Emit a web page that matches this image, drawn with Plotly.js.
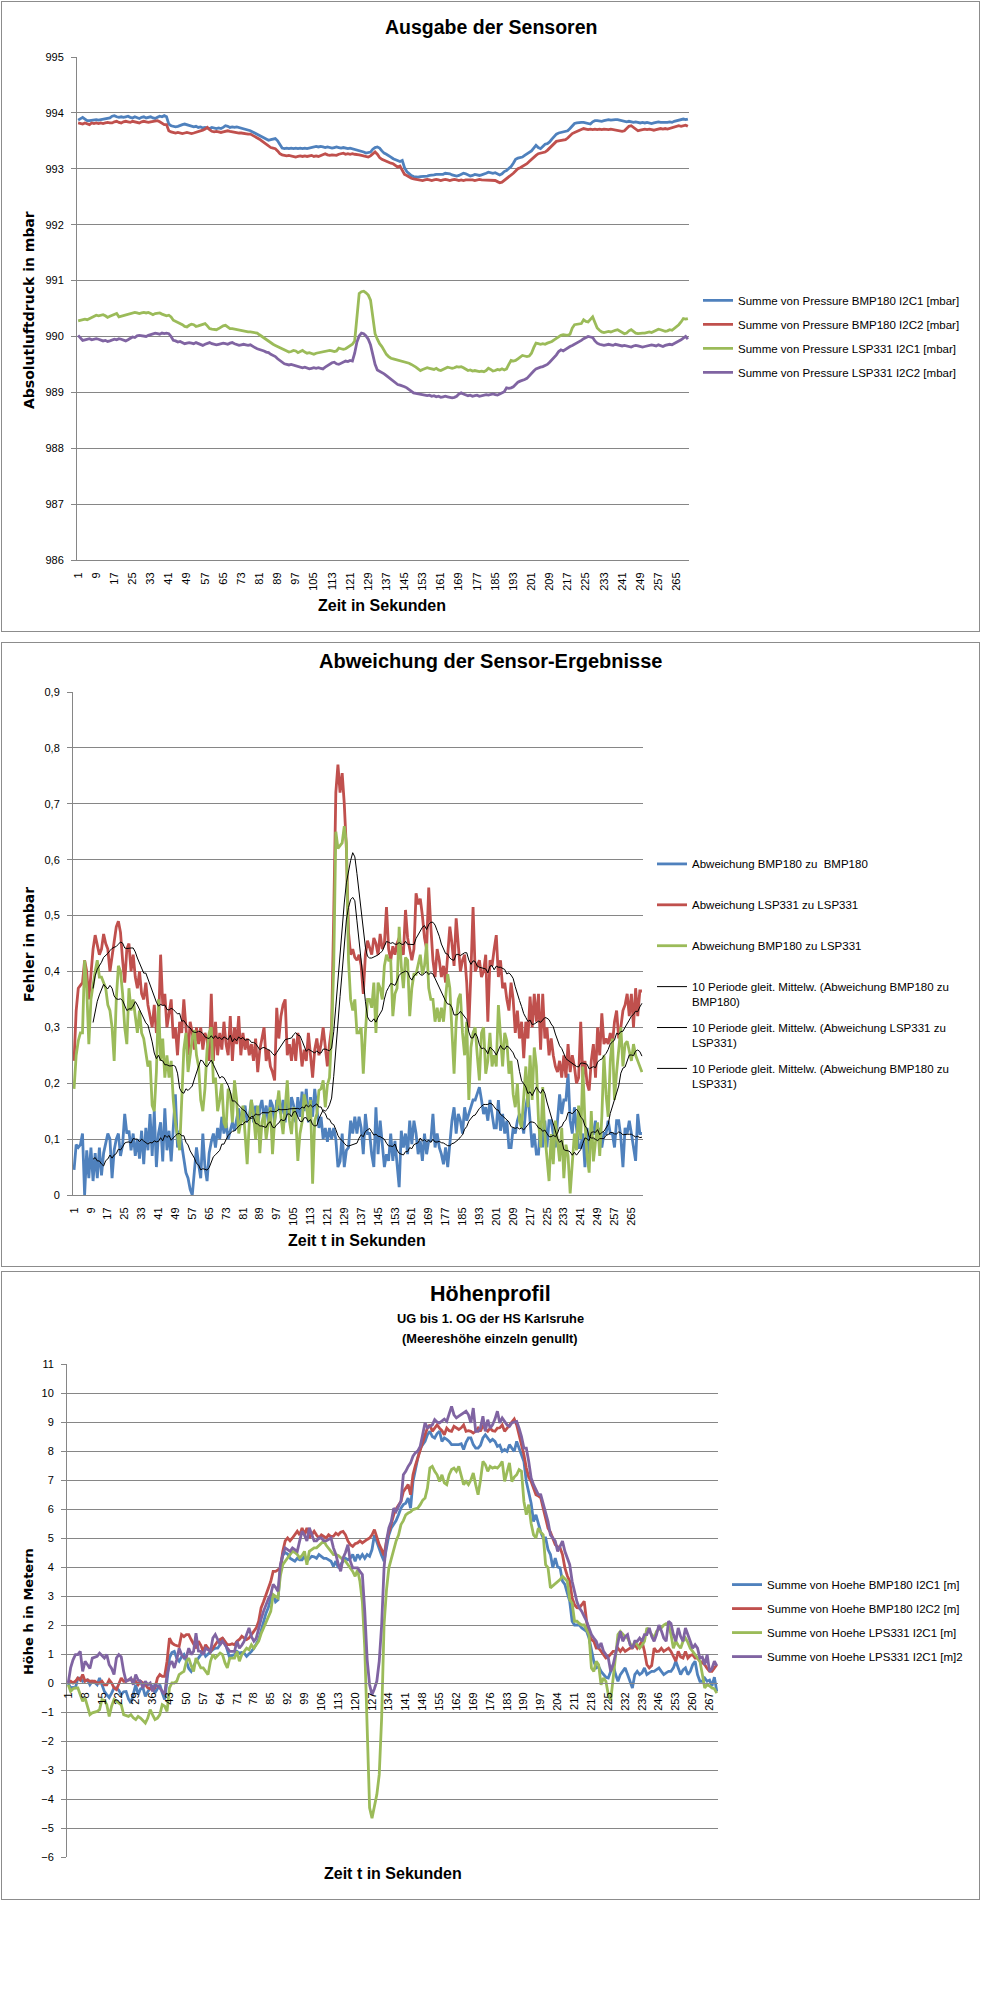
<!DOCTYPE html>
<html><head><meta charset="utf-8">
<script src="https://cdn.plot.ly/plotly-3.0.1.min.js"></script>
<style>
body{margin:0;background:#fff;width:983px;height:2004px;position:relative;overflow:hidden}
.box{position:absolute;border:1px solid #8c8c8c;box-sizing:border-box;background:#fff}
.box>div{position:absolute;left:0;top:0}
</style></head><body>
<div class="box" style="left:1px;top:1px;width:979px;height:631px"><div id="c1"></div></div>
<div class="box" style="left:1px;top:642px;width:979px;height:625px"><div id="c2"></div></div>
<div class="box" style="left:1px;top:1271px;width:979px;height:629px"><div id="c3"></div></div>
<script>
// ---------- categories / tick labels ----------
const seconds = Array.from({length:270},(_,k)=>k+1);
const ticks8 = [1,9,17,25,33,41,49,57,65,73,81,89,97,105,113,121,129,137,145,153,161,169,177,185,193,201,209,217,225,233,241,249,257,265];
const ticks7 = [1,8,15,22,29,36,43,50,57,64,71,78,85,92,99,106,113,120,127,134,141,148,155,162,169,176,183,190,197,204,211,218,225,232,239,246,253,260,267];

// ---------- Chart 1: Ausgabe der Sensoren (mbar) ----------
const pressBmp180I2C1 = [
993.87,993.90,993.92,993.89,993.86,993.86,993.87,993.88,993.88,993.87,
993.88,993.89,993.90,993.90,993.91,993.94,993.95,993.93,993.92,993.93,
993.92,993.93,993.94,993.92,993.91,993.93,993.92,993.90,993.92,993.93,
993.91,993.92,993.93,993.91,993.90,993.92,993.94,993.93,993.95,993.93,
993.80,993.77,993.76,993.75,993.76,993.78,993.79,993.80,993.79,993.77,
993.76,993.75,993.76,993.74,993.75,993.73,993.74,993.73,993.72,993.74,
993.73,993.72,993.73,993.72,993.74,993.77,993.76,993.74,993.75,993.74,
993.75,993.74,993.73,993.72,993.70,993.69,993.68,993.66,993.64,993.62,
993.60,993.58,993.55,993.53,993.51,993.52,993.53,993.54,993.50,993.42,
993.37,993.36,993.37,993.36,993.37,993.36,993.37,993.36,993.37,993.36,
993.37,993.36,993.37,993.38,993.39,993.40,993.39,993.40,993.39,993.38,
993.39,993.38,993.37,993.38,993.39,993.38,993.37,993.38,993.37,993.36,
993.37,993.36,993.35,993.34,993.33,993.32,993.30,993.28,993.29,993.30,
993.35,993.38,993.39,993.37,993.32,993.28,993.26,993.24,993.21,993.18,
993.16,993.14,993.13,993.15,993.02,992.95,992.91,992.88,992.86,992.85,
992.85,992.86,992.86,992.87,992.87,992.88,992.88,992.89,992.90,992.90,
992.91,992.90,992.92,992.92,992.91,992.89,992.88,992.87,992.88,992.90,
992.92,992.91,992.89,992.87,992.88,992.90,992.89,992.88,992.89,992.90,
992.92,992.94,992.93,992.92,992.93,992.91,992.89,992.91,992.95,992.97,
993.00,993.04,993.10,993.17,993.19,993.20,993.21,993.24,993.27,993.29,
993.32,993.37,993.42,993.38,993.36,993.40,993.44,993.45,993.48,993.53,
993.58,993.62,993.64,993.65,993.65,993.67,993.68,993.72,993.77,993.81,
993.82,993.83,993.83,993.83,993.82,993.81,993.80,993.84,993.86,993.86,
993.85,993.85,993.86,993.87,993.88,993.87,993.88,993.88,993.88,993.87,
993.86,993.85,993.84,993.85,993.84,993.83,993.84,993.83,993.82,993.83,
993.82,993.83,993.82,993.81,993.82,993.83,993.84,993.83,993.83,993.82,
993.83,993.84,993.83,993.85,993.86,993.86,993.88,993.89,993.88,993.89];
const pressBmp180I2C2 = [
993.82,993.81,993.80,993.82,993.81,993.79,993.82,993.81,993.82,993.81,
993.82,993.81,993.82,993.83,993.82,993.82,993.84,993.85,993.83,993.82,
993.84,993.85,993.84,993.83,993.85,993.84,993.83,993.82,993.84,993.85,
993.84,993.83,993.84,993.85,993.86,993.86,993.84,993.81,993.79,993.79,
993.68,993.66,993.65,993.64,993.65,993.64,993.63,993.64,993.65,993.64,
993.63,993.64,993.65,993.67,993.68,993.69,993.71,993.74,993.70,993.67,
993.66,993.67,993.66,993.65,993.66,993.67,993.68,993.67,993.66,993.65,
993.65,993.64,993.64,993.63,993.63,993.62,993.62,993.60,993.58,993.56,
993.53,993.50,993.47,993.44,993.40,993.38,993.37,993.36,993.32,993.27,
993.25,993.24,993.23,993.24,993.23,993.22,993.21,993.22,993.23,993.22,
993.23,993.22,993.23,993.24,993.22,993.23,993.22,993.24,993.26,993.27,
993.25,993.24,993.25,993.24,993.24,993.26,993.27,993.28,993.26,993.27,
993.26,993.27,993.26,993.26,993.25,993.24,993.23,993.22,993.21,993.23,
993.27,993.30,993.26,993.20,993.17,993.15,993.13,993.11,993.10,993.09,
993.06,993.03,993.05,992.96,992.90,992.88,992.85,992.83,992.82,992.81,
992.80,992.80,992.79,992.80,992.81,992.80,992.79,992.80,992.81,992.80,
992.79,992.80,992.81,992.80,992.79,992.80,992.81,992.80,992.79,992.80,
992.79,992.80,992.80,992.81,992.80,992.79,992.80,992.81,992.80,992.80,
992.79,992.80,992.79,992.80,992.79,992.77,992.75,992.76,992.79,992.82,
992.85,992.88,992.92,992.96,993.00,993.02,993.04,993.06,993.09,993.13,
993.17,993.20,993.24,993.27,993.28,993.29,993.30,993.33,993.37,993.42,
993.46,993.49,993.50,993.51,993.51,993.52,993.55,993.60,993.63,993.65,
993.67,993.69,993.71,993.72,993.71,993.70,993.71,993.70,993.71,993.70,
993.71,993.70,993.71,993.70,993.70,993.71,993.70,993.70,993.69,993.68,
993.67,993.68,993.72,993.76,993.77,993.74,993.70,993.68,993.69,993.70,
993.71,993.70,993.71,993.70,993.69,993.70,993.71,993.72,993.71,993.72,
993.71,993.72,993.73,993.74,993.75,993.77,993.76,993.77,993.78,993.76];
const pressLsp331I2C1 = [
990.28,990.29,990.30,990.31,990.30,990.32,990.34,990.36,990.38,990.37,
990.38,990.39,990.37,990.34,990.36,990.38,990.40,990.41,990.35,990.36,
990.38,990.39,990.40,990.41,990.42,990.43,990.42,990.41,990.42,990.43,
990.42,990.43,990.41,990.39,990.41,990.42,990.42,990.40,990.39,990.37,
990.38,990.35,990.29,990.27,990.26,990.24,990.21,990.18,990.17,990.20,
990.22,990.21,990.18,990.19,990.20,990.22,990.23,990.19,990.14,990.13,
990.12,990.12,990.14,990.17,990.19,990.20,990.17,990.14,990.14,990.13,
990.12,990.12,990.11,990.10,990.09,990.08,990.08,990.07,990.06,990.06,
990.03,990.00,989.98,989.95,989.91,989.88,989.86,989.84,989.82,989.80,
989.78,989.76,989.74,989.72,989.73,989.75,989.74,989.71,989.73,989.75,
989.72,989.70,989.71,989.69,989.68,989.70,989.71,989.72,989.73,989.74,
989.74,989.75,989.74,989.73,989.74,989.79,989.78,989.77,989.78,989.81,
989.84,989.86,989.92,990.30,990.77,990.80,990.81,990.78,990.74,990.65,
990.35,990.05,989.95,989.87,989.82,989.75,989.68,989.64,989.61,989.60,
989.59,989.58,989.57,989.56,989.55,989.54,989.52,989.50,989.48,989.45,
989.42,989.39,989.41,989.43,989.44,989.43,989.42,989.41,989.43,989.40,
989.39,989.41,989.43,989.45,989.44,989.43,989.44,989.46,989.45,989.46,
989.44,989.41,989.39,989.40,989.38,989.39,989.38,989.37,989.38,989.37,
989.39,989.43,989.41,989.38,989.39,989.41,989.40,989.42,989.40,989.42,
989.50,989.57,989.56,989.57,989.60,989.63,989.66,989.65,989.64,989.65,
989.70,989.80,989.88,989.87,989.86,989.87,989.86,989.88,989.89,989.91,
989.94,989.97,990.00,990.02,990.03,990.03,990.02,990.04,990.15,990.21,
990.22,990.23,990.23,990.30,990.27,990.26,990.30,990.35,990.25,990.15,
990.11,990.08,990.07,990.08,990.09,990.08,990.10,990.11,990.12,990.10,
990.07,990.05,990.06,990.10,990.12,990.09,990.06,990.05,990.06,990.06,
990.06,990.07,990.08,990.07,990.09,990.11,990.13,990.12,990.10,990.09,
990.10,990.12,990.11,990.14,990.17,990.21,990.26,990.32,990.31,990.32];
const pressLsp331I2C2 = [
990.02,989.97,989.93,989.94,989.95,989.96,989.94,989.95,989.96,989.95,
989.93,989.92,989.93,989.91,989.92,989.94,989.95,989.94,989.96,989.95,
989.93,989.92,989.94,989.97,989.99,989.98,990.01,990.02,990.01,990.00,
990.00,990.02,990.03,990.05,990.06,990.05,990.04,990.06,990.05,990.06,
990.05,990.00,989.93,989.92,989.90,989.91,989.89,989.87,989.88,989.89,
989.88,989.87,989.89,989.87,989.85,989.84,989.86,989.88,989.89,989.87,
989.86,989.85,989.86,989.87,989.88,989.87,989.86,989.88,989.89,989.87,
989.86,989.84,989.85,989.86,989.85,989.84,989.85,989.82,989.80,989.78,
989.77,989.76,989.74,989.72,989.71,989.68,989.66,989.64,989.60,989.57,
989.54,989.51,989.50,989.49,989.50,989.49,989.48,989.47,989.45,989.44,
989.45,989.43,989.42,989.43,989.44,989.43,989.44,989.43,989.42,989.45,
989.48,989.50,989.53,989.54,989.51,989.50,989.52,989.55,989.56,989.55,
989.57,989.56,989.70,989.90,990.01,990.06,990.05,990.01,989.95,989.85,
989.65,989.50,989.40,989.38,989.36,989.33,989.30,989.27,989.24,989.20,
989.17,989.14,989.13,989.12,989.10,989.08,989.05,989.02,988.99,988.98,
988.97,988.96,988.96,988.95,988.94,988.95,988.93,988.94,988.92,988.93,
988.91,988.92,988.93,988.92,988.91,988.90,988.91,988.93,988.97,988.99,
988.97,988.95,988.94,988.95,988.93,988.94,988.95,988.93,988.94,988.95,
988.96,988.95,988.96,988.97,988.96,988.95,988.97,988.99,989.01,989.08,
989.07,989.08,989.10,989.14,989.18,989.20,989.21,989.23,989.25,989.30,
989.35,989.38,989.42,989.44,989.45,989.46,989.48,989.50,989.54,989.58,
989.62,989.67,989.73,989.76,989.74,989.77,989.80,989.82,989.84,989.86,
989.88,989.90,989.93,989.96,989.98,990.00,989.99,989.98,989.92,989.88,
989.86,989.85,989.84,989.85,989.86,989.85,989.84,989.86,989.85,989.84,
989.83,989.84,989.83,989.82,989.81,989.83,989.84,989.83,989.82,989.81,
989.82,989.83,989.84,989.85,989.84,989.83,989.85,989.84,989.82,989.84,
989.85,989.86,989.85,989.87,989.89,989.91,989.94,989.97,990.00,989.95];

// ---------- Chart 2: Abweichung der Sensor-Ergebnisse (mbar) ----------
const devBmp180Bmp180 = [
0.045,0.09,0.085,0.09,0.11,0.0,0.08,0.03,0.085,0.025,
0.075,0.03,0.085,0.035,0.075,0.095,0.11,0.10,0.03,0.08,
0.10,0.11,0.07,0.09,0.145,0.11,0.115,0.08,0.11,0.07,
0.10,0.065,0.115,0.055,0.12,0.08,0.145,0.07,0.15,0.05,
0.11,0.13,0.06,0.155,0.08,0.115,0.06,0.12,0.18,0.085,
0.115,0.09,0.06,0.04,0.03,0.01,0.0,0.05,0.085,0.055,
0.03,0.11,0.05,0.025,0.075,0.095,0.11,0.085,0.12,0.10,
0.14,0.11,0.13,0.10,0.115,0.13,0.115,0.135,0.155,0.13,
0.14,0.16,0.13,0.14,0.17,0.13,0.16,0.12,0.155,0.17,
0.135,0.16,0.13,0.17,0.16,0.13,0.17,0.155,0.145,0.17,
0.13,0.17,0.14,0.175,0.16,0.13,0.175,0.14,0.185,0.15,
0.19,0.13,0.175,0.14,0.19,0.155,0.12,0.14,0.10,0.12,
0.095,0.12,0.10,0.12,0.10,0.05,0.06,0.11,0.05,0.08,
0.085,0.133,0.11,0.14,0.11,0.14,0.12,0.073,0.145,0.11,
0.11,0.073,0.05,0.157,0.073,0.133,0.097,0.05,0.073,0.061,
0.11,0.061,0.097,0.05,0.014,0.115,0.085,0.11,0.073,0.133,
0.091,0.133,0.11,0.073,0.097,0.061,0.11,0.073,0.097,0.097,
0.145,0.085,0.11,0.085,0.073,0.055,0.085,0.05,0.097,0.133,
0.157,0.11,0.145,0.133,0.11,0.157,0.133,0.145,0.157,0.17,
0.17,0.18,0.193,0.17,0.145,0.157,0.133,0.17,0.14,0.12,
0.12,0.17,0.115,0.145,0.11,0.133,0.085,0.085,0.12,0.11,
0.133,0.145,0.133,0.11,0.157,0.18,0.133,0.085,0.11,0.073,
0.073,0.133,0.085,0.133,0.085,0.133,0.133,0.11,0.085,0.133,
0.18,0.145,0.17,0.17,0.217,0.133,0.11,0.157,0.12,0.085,
0.085,0.11,0.05,0.12,0.073,0.11,0.11,0.133,0.097,0.12,
0.085,0.11,0.11,0.133,0.11,0.11,0.085,0.133,0.133,0.103,
0.05,0.12,0.11,0.133,0.11,0.085,0.061,0.145,0.11,0.11];
const devLsp331Lsp331 = [
0.24,0.33,0.37,0.375,0.38,0.42,0.40,0.35,0.39,0.44,
0.465,0.45,0.43,0.44,0.467,0.45,0.44,0.40,0.43,0.46,
0.48,0.49,0.47,0.42,0.38,0.44,0.45,0.40,0.43,0.39,
0.37,0.40,0.36,0.35,0.38,0.34,0.32,0.30,0.34,0.29,
0.30,0.43,0.34,0.36,0.30,0.33,0.35,0.28,0.30,0.25,
0.31,0.29,0.35,0.30,0.25,0.31,0.29,0.26,0.30,0.27,
0.30,0.26,0.29,0.28,0.24,0.36,0.24,0.31,0.25,0.29,
0.26,0.31,0.27,0.25,0.32,0.24,0.30,0.27,0.32,0.25,
0.29,0.26,0.28,0.25,0.27,0.24,0.28,0.22,0.26,0.28,
0.30,0.24,0.26,0.23,0.22,0.205,0.335,0.28,0.32,0.34,
0.35,0.25,0.27,0.24,0.28,0.24,0.29,0.27,0.23,0.26,
0.24,0.29,0.25,0.21,0.26,0.28,0.25,0.27,0.30,0.26,
0.23,0.27,0.30,0.50,0.72,0.77,0.72,0.755,0.70,0.62,
0.47,0.43,0.44,0.425,0.42,0.43,0.41,0.36,0.43,0.455,
0.44,0.43,0.46,0.45,0.43,0.467,0.44,0.45,0.515,0.44,
0.42,0.445,0.43,0.45,0.46,0.44,0.43,0.51,0.46,0.44,
0.42,0.44,0.54,0.52,0.53,0.50,0.46,0.44,0.55,0.48,
0.42,0.39,0.44,0.42,0.39,0.41,0.38,0.43,0.48,0.45,
0.41,0.495,0.44,0.40,0.42,0.43,0.38,0.30,0.40,0.515,
0.40,0.41,0.42,0.39,0.40,0.43,0.31,0.42,0.41,0.44,
0.465,0.39,0.42,0.37,0.38,0.35,0.33,0.38,0.35,0.29,
0.33,0.28,0.31,0.245,0.31,0.28,0.355,0.30,0.36,0.31,
0.36,0.26,0.36,0.28,0.30,0.25,0.28,0.25,0.23,0.22,
0.24,0.21,0.25,0.21,0.27,0.22,0.25,0.23,0.20,0.21,
0.31,0.21,0.24,0.20,0.187,0.24,0.27,0.21,0.30,0.25,
0.325,0.27,0.28,0.27,0.29,0.27,0.31,0.33,0.28,0.30,
0.33,0.34,0.36,0.32,0.36,0.30,0.37,0.32,0.365,0.365];
const devBmp180Lsp331 = [
0.19,0.25,0.276,0.29,0.29,0.42,0.37,0.27,0.35,0.38,
0.40,0.42,0.39,0.39,0.38,0.37,0.34,0.33,0.30,0.24,
0.35,0.41,0.40,0.36,0.30,0.27,0.37,0.33,0.35,0.32,
0.29,0.33,0.29,0.28,0.25,0.23,0.24,0.16,0.15,0.22,
0.35,0.24,0.28,0.21,0.25,0.21,0.24,0.17,0.13,0.10,
0.08,0.17,0.26,0.29,0.22,0.25,0.28,0.295,0.25,0.23,
0.17,0.15,0.19,0.26,0.29,0.30,0.20,0.21,0.15,0.17,
0.20,0.13,0.12,0.19,0.18,0.13,0.205,0.17,0.11,0.13,
0.16,0.11,0.055,0.13,0.17,0.145,0.10,0.16,0.075,0.13,
0.145,0.10,0.13,0.157,0.073,0.133,0.157,0.187,0.14,0.109,
0.157,0.205,0.133,0.109,0.157,0.14,0.061,0.109,0.13,0.18,
0.16,0.133,0.17,0.02,0.133,0.145,0.187,0.19,0.205,0.157,
0.197,0.21,0.29,0.41,0.65,0.62,0.625,0.63,0.66,0.63,
0.42,0.35,0.33,0.35,0.29,0.29,0.30,0.217,0.29,0.35,
0.35,0.335,0.38,0.29,0.38,0.37,0.35,0.41,0.43,0.42,
0.42,0.32,0.36,0.37,0.48,0.41,0.37,0.425,0.42,0.32,
0.37,0.395,0.395,0.41,0.43,0.395,0.41,0.45,0.37,0.35,
0.35,0.31,0.335,0.31,0.335,0.31,0.35,0.395,0.37,0.29,
0.217,0.31,0.35,0.36,0.29,0.25,0.31,0.17,0.264,0.29,
0.30,0.25,0.205,0.29,0.30,0.217,0.24,0.29,0.23,0.25,
0.23,0.34,0.29,0.23,0.29,0.276,0.217,0.24,0.18,0.157,
0.20,0.133,0.12,0.18,0.23,0.157,0.25,0.17,0.264,0.23,
0.133,0.085,0.193,0.109,0.073,0.025,0.109,0.055,0.133,0.10,
0.06,0.12,0.03,0.09,0.07,0.003,0.05,0.11,0.08,0.16,
0.10,0.23,0.13,0.07,0.04,0.15,0.06,0.10,0.13,0.07,
0.14,0.25,0.18,0.14,0.24,0.28,0.17,0.22,0.26,0.30,
0.23,0.27,0.275,0.26,0.24,0.27,0.25,0.24,0.23,0.22];

// ---------- Chart 3: Höhenprofil (m) ----------
const hBmp180I2C1 = [
0.0,-0.17,-0.15,-0.17,0.17,0.17,0.06,0.08,0.11,-0.06,
0.06,0.02,-0.06,0.17,-0.1,-0.29,-0.4,-0.5,-0.35,-0.17,
-0.17,-0.25,-0.4,-0.3,-0.29,-0.55,-0.69,-0.4,-0.06,-0.4,
-0.2,-0.17,-0.46,-0.3,-0.17,-0.11,-0.34,-0.2,-0.06,-0.34,
-0.57,0.1,0.86,1.05,1.09,0.86,0.75,0.9,0.98,0.75,
0.5,0.4,0.6,0.75,0.86,1.0,1.09,0.92,1.0,1.09,
1.15,1.2,1.2,1.32,1.55,1.4,1.09,0.86,0.95,0.98,
1.09,1.03,1.05,1.03,0.92,1.0,1.09,1.2,1.38,1.5,
1.8,2.1,2.4,2.6,2.9,3.05,2.8,2.87,3.97,4.4,
4.5,4.45,4.3,4.25,4.2,4.3,4.25,4.25,4.37,4.2,
4.3,4.37,4.35,4.3,4.43,4.37,4.3,4.3,4.25,4.2,
4.02,4.2,3.97,4.1,4.2,4.3,4.25,4.3,4.43,4.2,
4.43,4.3,4.43,4.3,4.43,4.37,4.6,5.1,4.85,4.6,
4.4,4.2,4.6,5.1,5.35,5.46,5.6,5.8,6.03,6.15,
6.2,6.38,6.03,6.95,7.4,7.76,8.1,8.2,8.33,8.56,
8.68,8.5,8.45,8.6,8.68,8.33,8.45,8.4,8.33,8.22,
8.22,8.2,8.22,8.25,8.05,8.3,8.45,8.45,8.22,8.1,
8.1,8.2,8.45,8.56,8.45,8.33,8.4,8.33,8.16,8.2,
7.99,8.05,7.99,8.22,8.1,7.99,8.33,8.1,7.87,7.64,
6.95,6.6,6.2,5.57,5.8,5.5,5.2,5.0,5.0,4.6,
4.43,3.97,4.31,4.0,3.97,3.51,3.4,3.1,2.82,2.13,
2.0,2.0,2.0,1.9,1.85,1.78,1.55,1.2,0.75,0.52,
0.57,0.4,0.29,0.2,0.17,0.4,0.63,0.3,0.06,0.29,
0.4,0.52,0.29,0.06,-0.17,0.29,0.4,0.29,0.35,0.52,
0.29,0.35,0.4,0.4,0.45,0.52,0.4,0.29,0.35,0.4,
0.4,0.52,0.75,0.52,0.29,0.45,0.52,0.29,0.4,0.63,
0.75,0.29,0.06,0.06,0.17,0.06,0.1,-0.1,0.2,-0.29];
const hBmp180I2C2 = [
0.06,0.06,0.0,0.06,0.17,0.1,0.29,0.06,0.11,0.06,
0.06,0.06,0.0,0.0,0.06,-0.06,-0.06,0.11,0.0,-0.17,
-0.23,0.0,0.17,0.06,0.06,0.11,0.11,0.11,0.06,-0.06,
0.06,0.0,-0.06,-0.17,-0.2,-0.23,-0.17,0.17,0.29,0.23,
0.23,0.75,1.55,1.38,1.32,1.3,1.26,1.67,1.6,1.67,
1.67,1.5,1.32,1.2,1.44,1.3,1.09,1.32,1.2,1.09,
1.2,1.32,1.44,1.5,1.55,1.44,1.32,1.32,1.35,1.32,
1.44,1.5,1.61,1.55,1.5,1.55,1.67,1.8,1.9,2.13,
2.59,2.8,3.05,3.3,3.5,3.85,3.85,3.9,3.97,4.54,
4.9,5.0,4.9,5.0,5.11,5.23,5.1,5.35,5.11,5.35,
5.0,5.11,5.23,5.1,5.0,5.11,5.05,5.0,5.11,5.05,
5.06,5.17,5.11,5.2,5.23,5.11,4.9,4.77,4.71,4.8,
4.83,4.9,4.83,4.9,4.95,5.0,5.11,5.29,5.0,4.77,
4.6,4.4,4.9,5.2,5.57,5.8,6.0,6.15,6.26,6.6,
6.7,6.84,6.49,7.18,7.5,7.76,8.1,8.3,8.56,8.79,
8.9,8.68,8.8,8.9,8.79,8.7,8.56,8.79,8.7,8.68,
8.85,8.79,8.74,8.8,8.9,8.68,8.7,8.68,8.62,8.68,
8.79,8.68,8.9,8.75,8.68,8.79,8.7,8.68,8.79,8.8,
8.9,8.68,8.79,8.9,9.02,9.1,8.9,8.56,8.2,7.87,
7.41,7.1,6.95,6.72,6.49,6.45,6.38,6.03,5.69,5.34,
5.2,5.0,4.77,4.7,4.66,4.43,3.97,3.7,3.51,2.93,
2.7,2.6,2.59,2.7,2.82,2.13,1.67,1.5,1.44,1.2,
1.2,1.1,0.98,0.86,0.9,0.98,1.09,1.1,1.2,1.09,
1.2,1.09,1.15,1.2,1.2,1.32,1.2,1.3,1.44,1.09,
0.63,0.52,0.6,1.2,1.09,1.1,1.2,1.09,1.15,1.2,
1.09,0.9,0.75,1.09,0.9,0.86,1.09,0.86,0.95,0.98,
0.86,0.86,0.75,0.7,0.63,0.5,0.4,0.4,0.5,0.63];
const hLps331I2C1 = [
-0.06,-0.29,-0.2,-0.17,-0.17,-0.4,-0.63,-0.52,-0.8,-1.09,
-1.03,-1.0,-0.98,-0.92,-0.57,-0.6,-0.75,-1.15,-0.8,-0.57,
-0.63,-0.7,-0.75,-1.09,-1.12,-1.15,-1.09,-1.2,-1.26,-1.15,
-1.21,-1.3,-1.38,-1.21,-0.92,-1.1,-1.26,-1.21,-1.09,-0.75,
-0.8,-0.98,-0.17,0.0,0.0,0.06,0.29,0.35,0.4,0.75,
0.86,0.6,0.4,0.86,0.7,0.52,0.52,0.4,0.29,0.75,
0.98,0.86,0.95,1.03,0.98,0.7,0.52,0.86,0.86,0.86,
1.09,0.75,0.98,1.1,1.2,1.15,1.32,1.2,1.3,1.44,
1.7,1.9,2.13,2.3,2.47,3.05,3.0,2.93,3.7,4.08,
4.2,4.3,4.43,4.54,4.5,4.43,4.31,4.4,4.54,4.08,
4.54,4.6,4.66,4.66,4.75,4.83,4.9,4.75,4.66,4.54,
4.43,4.43,4.4,4.31,4.25,4.2,4.08,3.95,3.85,3.68,
3.9,3.5,2.8,1.2,-1.8,-4.3,-4.66,-4.2,-3.85,-3.16,
-1.2,2.0,3.2,3.97,4.3,4.6,4.9,5.1,5.46,5.6,
5.8,5.86,5.9,5.98,6.0,6.03,6.15,6.3,6.38,6.72,
7.41,7.47,7.3,7.18,6.95,7.18,6.9,6.84,7.18,7.36,
7.41,7.3,7.47,7.1,6.84,6.95,6.84,7.0,7.24,6.84,
6.49,7.0,7.64,7.53,7.3,7.47,7.41,7.45,7.41,7.5,
7.64,6.95,7.3,7.59,6.95,7.1,7.18,7.36,7.3,6.26,
5.8,6.15,5.5,5.11,5.0,5.34,5.2,5.11,4.08,3.97,
3.28,3.35,3.4,3.5,3.57,3.68,3.6,3.51,2.87,2.76,
2.13,2.13,2.05,2.0,2.0,1.85,1.67,0.52,0.4,0.75,
0.63,-0.06,0.17,0.06,-0.4,-0.6,0.17,0.98,1.67,1.78,
1.67,1.6,1.55,1.4,1.2,1.44,1.32,1.2,1.3,1.44,
1.9,1.8,1.67,1.55,1.78,1.85,1.9,2.0,2.05,2.0,
1.67,1.2,1.44,1.3,1.2,1.44,1.55,1.4,1.2,1.09,
0.98,0.86,0.75,0.3,-0.17,-0.06,-0.1,-0.17,-0.2,-0.35];
const hLps331I2C1b = [
0.0,0.52,0.8,0.98,0.98,1.09,0.4,0.75,0.63,0.5,
0.86,0.9,0.92,1.03,0.95,0.86,0.98,0.63,0.5,0.29,
0.86,0.98,0.9,0.4,0.06,0.1,0.17,-0.06,0.29,0.1,
0.06,-0.17,0.06,-0.06,0.0,-0.29,-0.06,-0.1,-0.17,-0.3,
-0.4,0.29,0.63,0.75,0.52,0.8,1.2,0.98,0.86,0.9,
1.2,0.98,1.09,1.72,1.1,1.09,0.98,1.2,1.15,1.09,
1.55,1.67,1.5,1.32,1.44,1.3,1.2,1.09,1.1,1.09,
1.44,1.2,1.3,1.44,1.67,1.9,1.6,1.44,1.55,1.9,
2.2,2.47,2.7,2.9,3.05,3.4,3.3,3.16,4.08,4.43,
4.66,4.6,4.54,4.66,4.6,4.54,4.9,5.23,5.1,4.9,
5.35,5.1,4.9,4.9,5.0,5.0,4.9,4.9,4.95,5.0,
4.66,4.43,4.1,3.85,4.31,4.5,4.77,4.2,3.97,3.97,
3.97,3.85,3.74,2.47,0.8,-0.06,-0.4,-0.2,0.06,0.75,
2.0,3.97,4.9,5.35,5.57,6.03,5.92,6.1,6.26,7.18,
7.3,7.47,7.59,7.82,7.94,8.0,8.16,8.56,8.97,8.8,
8.85,8.9,9.08,9.0,8.97,9.02,9.1,9.02,9.25,9.54,
9.25,9.14,9.2,9.25,9.31,9.37,9.25,8.97,9.48,8.68,
8.68,8.8,9.2,8.68,9.08,8.79,8.9,9.1,9.37,8.97,
9.14,9.02,8.9,8.85,8.97,9.0,9.02,8.79,8.5,8.1,
8.1,7.64,7.07,6.84,6.67,6.5,6.49,6.2,5.92,5.57,
5.11,5.0,4.89,4.54,4.7,4.89,4.54,4.3,4.08,3.51,
3.16,2.8,2.59,2.47,2.3,2.13,1.9,1.67,1.55,1.44,
1.2,1.38,1.1,0.98,0.86,0.4,0.63,1.0,1.44,1.78,
1.44,1.6,1.67,1.32,1.2,1.44,1.44,1.55,1.44,1.67,
1.67,1.9,1.6,1.44,1.67,2.0,1.8,1.55,1.44,2.13,
2.05,1.67,1.44,1.9,1.6,1.44,1.9,1.7,1.44,1.2,
1.32,1.2,0.86,0.9,0.63,0.98,0.4,0.5,0.75,0.6];

// ---------- helpers ----------
const BLUE='#4F81BD', RED='#C0504D', GREEN='#9BBB59', PURPLE='#8064A2';
const GRID='#868686';
const FONT='"Liberation Sans", Arial, sans-serif';
const tickFont={family:FONT,size:11,color:'#000'};
const legFont={family:FONT,size:11.5,color:'#000'};

// Excel-style 10-period moving average trendline
function movingAverage(values, period){
  const xs=[], ys=[];
  for(let k=period-1;k<values.length;k++){
    let s=0; for(let j=k-period+1;j<=k;j++) s+=values[j];
    xs.push(seconds[k]); ys.push(s/period);
  }
  return {x:xs,y:ys};
}
function yAxis(range, extra){
  return Object.assign({range:range, dtick:1, tick0:range[0], showgrid:true, gridcolor:GRID, gridwidth:1,
    showline:true, linecolor:GRID, linewidth:1, ticks:'outside', ticklen:5, tickcolor:GRID,
    tickfont:tickFont, zeroline:false, fixedrange:true, ticklabelstandoff:5}, extra||{});
}
function xAxis(tv, extra){
  return Object.assign({range:[0.5,270.5], tickmode:'array', tickvals:tv, ticktext:tv.map(String),
    tickangle:-90, showgrid:false, showline:true, linecolor:GRID, linewidth:1, ticks:'',
    tickfont:tickFont, zeroline:false, fixedrange:true, ticklabelstandoff:7}, extra||{});
}
function line(y, name, color, group, w){
  return {x:seconds, y:y, name:name, type:'scatter', mode:'lines', legendgroup:group,
    line:{color:color, width:w||2.8}, hoverinfo:'skip'};
}
function ann(text, x, y, size, extra){
  return Object.assign({text:text, x:x, y:y, xref:'paper', yref:'paper', showarrow:false,
    xanchor:'center', yanchor:'middle', font:{family:FONT, size:size, color:'#000'}}, extra||{});
}
const yTitleFont = '"DejaVu Sans", Verdana, sans-serif';
function yTitle(text, x, y, size){
  return ann('<b>'+text+'</b>', x, y, size, {textangle:-90, font:{family:yTitleFont, size:size, color:'#000'}});
}
const cfg={displayModeBar:false, staticPlot:true};

// ---------- Chart 1 ----------
Plotly.newPlot('c1', [
  line(pressBmp180I2C1,'Summe von Pressure BMP180 I2C1 [mbar]',BLUE,'a'),
  line(pressBmp180I2C2,'Summe von Pressure BMP180 I2C2 [mbar]',RED,'b'),
  line(pressLsp331I2C1,'Summe von Pressure LSP331 I2C1 [mbar]',GREEN,'c'),
  line(pressLsp331I2C2,'Summe von Pressure LSP331 I2C2 [mbar]',PURPLE,'d')
], {
  width:977, height:629, margin:{l:75,r:290,t:55,b:71},
  paper_bgcolor:'#fff', plot_bgcolor:'#fff', showlegend:true,
  xaxis:xAxis(ticks8), yaxis:yAxis([986,995]),
  legend:{x:1.0147, xanchor:'left', y:0.545, yanchor:'top', font:legFont,
    tracegroupgap:5, itemwidth:30, bgcolor:'rgba(0,0,0,0)'},
  annotations:[
    ann('<b>Ausgabe der Sensoren</b>',0.676,1.0596,19.5),
    ann('<b>Zeit in Sekunden</b>',0.498,-0.0895,16),
    yTitle('Absolutluftdruck in mbar',-0.0784,0.497,14)
  ]
}, cfg);

// ---------- Chart 2 ----------
const ma1=movingAverage(devBmp180Bmp180,10), ma2=movingAverage(devLsp331Lsp331,10), ma3=movingAverage(devBmp180Lsp331,10);
function maTrace(m,name,g){return {x:m.x,y:m.y,name:name,type:'scatter',mode:'lines',legendgroup:g,line:{color:'#000',width:1},hoverinfo:'skip'};}
Plotly.newPlot('c2', [
  line(devBmp180Bmp180,'Abweichung BMP180 zu  BMP180<br>\u00a0',BLUE,'a'),
  line(devLsp331Lsp331,'Abweichung LSP331 zu LSP331<br>\u00a0',RED,'b'),
  line(devBmp180Lsp331,'Abweichung BMP180 zu LSP331<br>\u00a0',GREEN,'c'),
  maTrace(ma1,'10 Periode gleit. Mittelw. (Abweichung BMP180 zu<br>BMP180)','d'),
  maTrace(ma2,'10 Periode gleit. Mittelw. (Abweichung LSP331 zu<br>LSP331)','e'),
  maTrace(ma3,'10 Periode gleit. Mittelw. (Abweichung BMP180 zu<br>LSP331)','f')
], {
  width:977, height:623, margin:{l:71,r:336,t:49,b:71},
  paper_bgcolor:'#fff', plot_bgcolor:'#fff', showlegend:true, separators:',.',
  xaxis:xAxis(ticks8), yaxis:yAxis([0,0.9],{dtick:0.1}),
  legend:{x:1.0158, xanchor:'left', y:0.686, yanchor:'top', valign:'top', font:legFont,
    tracegroupgap:8, itemwidth:30, bgcolor:'rgba(0,0,0,0)'},
  annotations:[
    ann('<b>Abweichung der Sensor-Ergebnisse</b>',0.733,1.0616,20),
    ann('<b>Zeit t in Sekunden</b>',0.498,-0.0895,16),
    yTitle('Fehler in mbar',-0.0772,0.499,14)
  ]
}, cfg);

// ---------- Chart 3 ----------
Plotly.newPlot('c3', [
  line(hBmp180I2C1,'Summe von Hoehe BMP180 I2C1 [m]',BLUE,'a'),
  line(hBmp180I2C2,'Summe von Hoehe BMP180 I2C2 [m]',RED,'b'),
  line(hLps331I2C1,'Summe von Hoehe LPS331 I2C1 [m]',GREEN,'c'),
  line(hLps331I2C1b,'Summe von Hoehe LPS331 I2C1 [m]2',PURPLE,'d')
], {
  width:977, height:627, margin:{l:65,r:260,t:92,b:42},
  paper_bgcolor:'#fff', plot_bgcolor:'#fff', showlegend:true,
  xaxis:xAxis(ticks7,{anchor:'free', position:6/17, ticklabelstandoff:4}), yaxis:yAxis([-6,11]),
  legend:{x:1.0123, xanchor:'left', y:0.582, yanchor:'top', font:legFont,
    tracegroupgap:5, itemwidth:30, bgcolor:'rgba(0,0,0,0)'},
  annotations:[
    ann('<b>Höhenprofil</b>',0.650,1.142,21.5),
    ann('<b>UG bis 1. OG der HS Karlsruhe</b>',0.650,1.0913,12.8),
    ann('<b>(Meereshöhe einzeln genullt)</b>',0.650,1.0527,12.8),
    ann('<b>Zeit t in Sekunden</b>',0.5015,-0.0325,16),
    yTitle('Höhe h in Metern',-0.0583,0.497,13)
  ]
}, cfg);
</script>
</body></html>
